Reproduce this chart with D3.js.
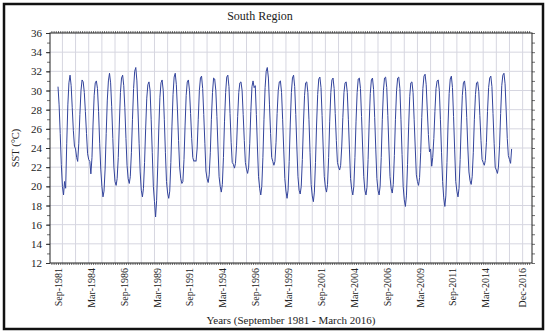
<!DOCTYPE html>
<html lang="en">
<head>
<meta charset="UTF-8" />
<script src="https://d3js.org/d3.v7.min.js"></script>
<title>South Region SST</title>
<style>
  body { margin: 0; background: #fff; }
  text { font-family: "Liberation Serif", serif; fill: #222; }
</style>
</head>
<body>
<script>
var w = 550;
var h = 336;

// monthly SST (°C), September 1981 - March 2016, one row per year
var startYear = 1981;
var startMonth = 8; // September (0-based)
var sst = [
  30.4, 28.5, 25.5, 22.3,                                          // 1981 Sep-Dec
  20.0, 19.1, 20.5, 19.8, 24.5, 28.5, 30.8, 31.6, 30.5, 28.2, 25.8, 24.2, // 1982
  23.9, 23.0, 22.6, 24.5, 27.5, 30.0, 31.1, 30.9, 29.8, 27.8, 25.5, 23.4, // 1983
  22.8, 22.6, 21.3, 23.0, 26.5, 29.5, 30.8, 31.0, 30.2, 27.8, 24.5, 21.8, // 1984
  20.0, 18.9, 19.5, 21.8, 25.5, 29.0, 31.0, 31.8, 30.8, 28.3, 25.0, 22.0, // 1985
  20.5, 20.1, 20.8, 23.0, 26.5, 29.8, 31.3, 31.6, 30.5, 28.2, 25.0, 22.2, // 1986
  20.8, 20.3, 21.0, 23.5, 27.0, 30.2, 32.0, 32.4, 31.0, 28.0, 24.5, 21.5, // 1987
  19.6, 18.9, 19.8, 22.5, 26.0, 29.2, 30.6, 30.9, 30.0, 27.0, 23.5, 20.0, // 1988
  18.4, 16.8, 18.5, 22.0, 26.0, 29.3, 30.8, 31.1, 30.0, 27.0, 23.5, 20.5, // 1989
  19.3, 18.75, 19.5, 22.5, 26.2, 29.6, 31.4, 31.8, 30.6, 28.0, 24.8, 22.0, // 1990
  20.8, 20.3, 20.5, 22.8, 26.3, 29.5, 30.9, 31.1, 30.0, 27.6, 25.0, 23.0, // 1991
  22.6, 22.7, 22.6, 24.0, 27.0, 30.0, 31.3, 31.5, 30.2, 27.5, 24.5, 21.6, // 1992
  20.8, 20.4, 21.2, 23.5, 27.0, 29.8, 31.3, 31.2, 30.0, 27.3, 24.0, 21.0, // 1993
  20.0, 19.4, 20.2, 23.0, 26.8, 29.8, 31.4, 31.6, 30.4, 27.6, 24.6, 22.5, // 1994
  22.3, 21.9, 22.4, 24.3, 27.3, 29.8, 30.8, 30.9, 30.0, 27.5, 24.8, 22.5, // 1995
  21.8, 21.35, 22.0, 24.5, 27.8, 30.4, 31.0, 30.3, 30.5, 27.5, 24.0, 21.0, // 1996
  19.8, 19.1, 20.0, 23.0, 27.0, 30.3, 32.0, 32.4, 31.3, 28.5, 25.5, 23.0, // 1997
  22.6, 22.2, 22.6, 24.6, 27.6, 30.0, 30.9, 31.0, 29.8, 27.0, 23.8, 20.8, // 1998
  19.5, 18.75, 19.6, 22.6, 26.5, 29.8, 31.3, 31.6, 30.4, 27.5, 24.0, 21.0, // 1999
  19.6, 19.2, 20.0, 22.8, 26.5, 29.5, 30.8, 30.9, 29.8, 27.0, 23.5, 20.2, // 2000
  19.0, 18.4, 19.4, 22.5, 26.4, 29.6, 31.2, 31.4, 30.3, 27.4, 24.0, 21.0, // 2001
  19.9, 19.4, 20.2, 23.0, 26.8, 29.8, 31.1, 31.3, 30.2, 27.6, 24.8, 22.5, // 2002
  22.0, 21.7, 22.2, 24.2, 27.2, 29.8, 30.8, 30.9, 29.8, 27.0, 23.8, 20.8, // 2003
  19.7, 19.1, 20.0, 23.0, 26.8, 29.8, 31.2, 31.3, 30.2, 27.3, 24.0, 21.0, // 2004
  19.6, 19.1, 19.9, 22.8, 26.6, 29.7, 31.1, 31.3, 30.1, 27.2, 23.8, 20.8, // 2005
  19.6, 19.1, 20.0, 23.0, 27.0, 30.0, 31.3, 31.4, 30.3, 27.4, 24.0, 21.0, // 2006
  19.8, 19.3, 20.2, 23.2, 27.0, 30.0, 31.3, 31.4, 30.2, 27.0, 23.3, 20.0, // 2007
  18.6, 17.9, 19.0, 22.3, 26.2, 29.4, 30.8, 30.9, 29.8, 27.0, 24.0, 21.2, // 2008
  20.5, 20.1, 20.9, 23.5, 27.2, 30.2, 31.5, 31.7, 30.6, 28.0, 25.4, 23.6, // 2009
  23.9, 22.1, 23.0, 25.0, 27.8, 30.2, 31.0, 31.1, 30.0, 27.0, 23.5, 20.5, // 2010
  18.8, 17.9, 19.0, 22.5, 26.5, 29.7, 31.2, 31.5, 30.3, 27.3, 23.8, 20.5, // 2011
  19.5, 18.9, 19.8, 22.8, 26.5, 29.5, 30.8, 31.0, 29.9, 27.2, 24.0, 21.5, // 2012
  20.6, 20.2, 21.0, 23.5, 27.0, 29.6, 30.8, 30.9, 29.9, 27.4, 24.8, 22.8, // 2013
  22.5, 22.2, 22.7, 24.6, 27.8, 30.3, 31.3, 31.5, 30.4, 27.6, 24.5, 22.0, // 2014
  21.7, 21.35, 22.0, 24.3, 27.6, 30.5, 31.6, 31.8, 30.7, 28.0, 25.0, 23.2, // 2015
  22.8, 22.4, 23.9                                                  // 2016 Jan-Mar
];

var xTickLabels = ["Sep-1981", "Mar-1984", "Sep-1986", "Mar-1989", "Sep-1991",
  "Mar-1994", "Sep-1996", "Mar-1999", "Sep-2001", "Mar-2004", "Sep-2006",
  "Mar-2009", "Sep-2011", "Mar-2014", "Dec-2016"];
var yTickValues = [12, 14, 16, 18, 20, 22, 24, 26, 28, 30, 32, 34, 36];

var title = "South Region";
var xTitle = "Years (September 1981 - March 2016)";
var yTitle = "SST (°C)";

var pLeft = 50, pRight = 532, pTop = 33, pBottom = 263;

var parseTick = d3.timeParse("%b-%Y");
var data = sst.map(function (v, i) {
  return { date: new Date(startYear, startMonth + i, 1), v: v };
});

var x = d3.scaleTime()
  .domain([new Date(1981, 0, 21), new Date(2017, 8, 18)])
  .range([pLeft, pRight]);

var y = d3.scaleLinear()
  .domain([12, 36])
  .range([pBottom, pTop]);

var svg = d3.select("body")
  .append("svg")
  .attr("width", w)
  .attr("height", h);

svg.append("rect")
  .attr("width", w).attr("height", h)
  .attr("fill", "#fff");

// grid
var years = d3.timeYear.range(new Date(1982, 0, 1), new Date(2017, 6, 1));
svg.append("g").selectAll("line")
  .data(years)
  .enter().append("line")
  .attr("x1", function (d) { return x(d); })
  .attr("x2", function (d) { return x(d); })
  .attr("y1", pTop).attr("y2", pBottom)
  .attr("stroke", "#d6d6e0").attr("stroke-width", 1);

svg.append("g").selectAll("line")
  .data(yTickValues.slice(1, -1))
  .enter().append("line")
  .attr("x1", pLeft).attr("x2", pRight)
  .attr("y1", function (d) { return y(d); })
  .attr("y2", function (d) { return y(d); })
  .attr("stroke", "#d6d6e0").attr("stroke-width", 1);

// dense ticks on all sides
var months = d3.timeMonth.every(2).range(new Date(1981, 1, 1), new Date(2017, 8, 1));
var yMinor = d3.range(12, 37, 1);

var bottomTicks = svg.append("g")
  .attr("transform", "translate(0," + pBottom + ")")
  .call(d3.axisBottom(x).tickValues(months).tickSize(2).tickFormat(""));
var topTicks = svg.append("g")
  .attr("transform", "translate(0," + pTop + ")")
  .call(d3.axisTop(x).tickValues(months).tickSize(2).tickFormat(""));
var rightTicks = svg.append("g")
  .attr("transform", "translate(" + pRight + ",0)")
  .call(d3.axisRight(y).tickValues(yMinor).tickSize(3).tickFormat(""));
var leftMinor = svg.append("g")
  .attr("transform", "translate(" + pLeft + ",0)")
  .call(d3.axisLeft(y).tickValues(yMinor).tickSize(3).tickFormat(""));
[bottomTicks, topTicks, rightTicks, leftMinor].forEach(function (g) {
  g.select(".domain").remove();
  g.selectAll("line").attr("stroke", "#333").attr("stroke-width", 0.7);
});

// y axis labels
var yAxis = svg.append("g")
  .attr("transform", "translate(" + pLeft + ",0)")
  .call(d3.axisLeft(y).tickValues(yTickValues).tickSize(4).tickPadding(4));
yAxis.select(".domain").remove();
yAxis.selectAll("line").attr("stroke", "#333");
yAxis.selectAll("text")
  .style("font-family", "Liberation Serif, serif")
  .style("font-size", "11px")
  .attr("fill", "#222");

// x axis labels
var xAxis = svg.append("g")
  .attr("transform", "translate(0," + pBottom + ")")
  .call(d3.axisBottom(x)
    .tickValues(xTickLabels.map(parseTick))
    .tickFormat(d3.timeFormat("%b-%Y"))
    .tickSize(0));
xAxis.select(".domain").remove();
xAxis.selectAll("text")
  .style("font-family", "Liberation Serif, serif")
  .style("font-size", "10px")
  .attr("fill", "#222")
  .attr("transform", "rotate(-90)")
  .attr("text-anchor", "end")
  .attr("x", -5)
  .attr("y", 0)
  .attr("dy", "0.35em");

// plot frame
svg.append("rect")
  .attr("x", pLeft).attr("y", pTop)
  .attr("width", pRight - pLeft).attr("height", pBottom - pTop)
  .attr("fill", "none")
  .attr("stroke", "#222").attr("stroke-width", 1);

// series
var line = d3.line()
  .x(function (d) { return x(d.date); })
  .y(function (d) { return y(d.v); });

svg.append("path")
  .datum(data)
  .attr("d", line)
  .attr("fill", "none")
  .attr("stroke", "#33449c")
  .attr("stroke-width", 1)
  .attr("stroke-linejoin", "round");

// titles
svg.append("text")
  .attr("x", 260).attr("y", 20)
  .attr("text-anchor", "middle")
  .style("font-size", "12px")
  .text(title);

svg.append("text")
  .attr("x", (pLeft + pRight) / 2).attr("y", 324)
  .attr("text-anchor", "middle")
  .style("font-size", "11px")
  .text(xTitle);

svg.append("text")
  .attr("transform", "translate(19," + ((pTop + pBottom) / 2) + ") rotate(-90)")
  .attr("text-anchor", "middle")
  .style("font-size", "10.5px")
  .text(yTitle);

// outer frame
svg.append("rect")
  .attr("x", 4).attr("y", 4)
  .attr("width", 539).attr("height", 325)
  .attr("fill", "none")
  .attr("stroke", "#111").attr("stroke-width", 2.5);
</script>
</body>
</html>
